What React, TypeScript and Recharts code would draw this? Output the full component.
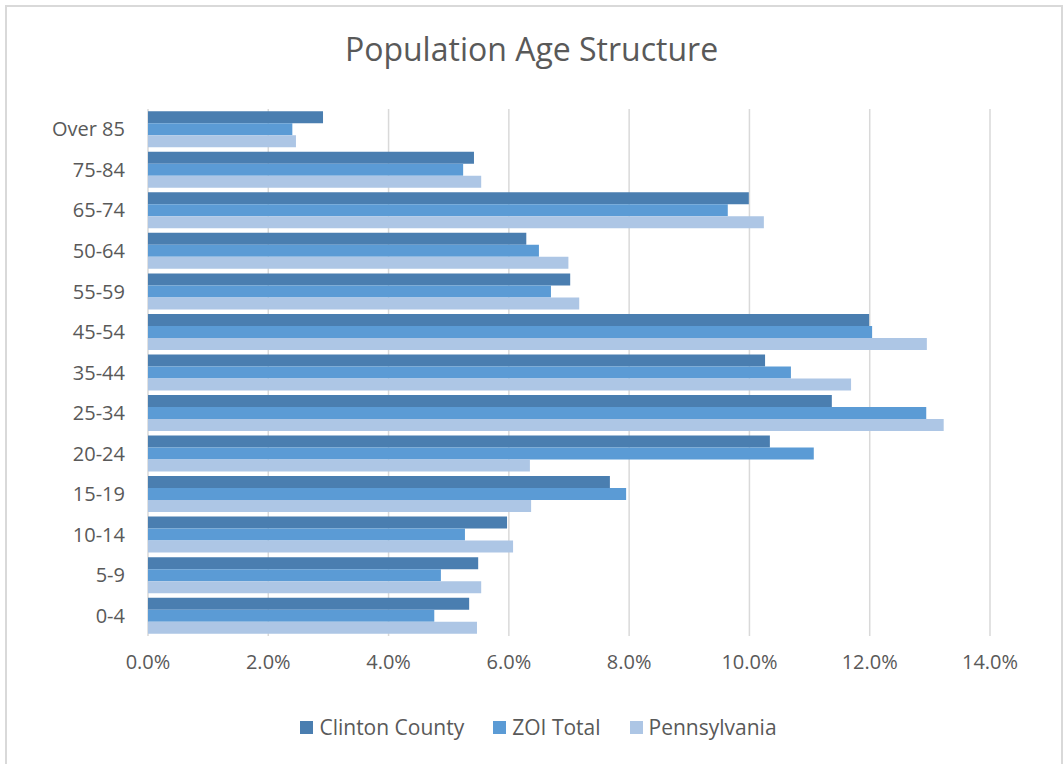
import React from 'react';
import { BarChart, Bar, XAxis, YAxis, CartesianGrid, Legend } from 'recharts';

const categories = ['Over 85', '75-84', '65-74', '50-64', '55-59', '45-54', '35-44', '25-34', '20-24', '15-19', '10-14', '5-9', '0-4'];
const clintonCounty = [2.91, 5.42, 9.99, 6.29, 7.02, 11.99, 10.26, 11.37, 10.34, 7.68, 5.97, 5.49, 5.34];
const zoiTotal = [2.40, 5.24, 9.64, 6.50, 6.70, 12.04, 10.69, 12.94, 11.07, 7.95, 5.27, 4.87, 4.76];
const pennsylvania = [2.46, 5.54, 10.24, 6.99, 7.17, 12.95, 11.69, 13.23, 6.35, 6.37, 6.07, 5.54, 5.47];
const xTicks = [0, 2, 4, 6, 8, 10, 12, 14];

const seriesNames = ['Clinton County', 'ZOI Total', 'Pennsylvania'];
const seriesColors = ['#4A7EB0', '#5B9BD5', '#ADC6E5'];

const data = categories.map((c, i) => ({
  category: c,
  clinton: clintonCounty[i],
  zoi: zoiTotal[i],
  pa: pennsylvania[i],
}));

const FONT = "'Open Sans', sans-serif";
const TEXT = '#595959';

const LegendContent = () => (
  <div style={{ height: 30, display: 'flex', justifyContent: 'center', alignItems: 'center', fontFamily: FONT, fontSize: 21, color: TEXT, paddingLeft: 79 }}>
    {seriesNames.map((n, i) => (
      <div key={n} style={{ display: 'flex', alignItems: 'center', marginRight: i < 2 ? 29 : 0 }}>
        <span style={{ width: 13, height: 13, background: seriesColors[i], display: 'inline-block', marginRight: 6 }} />
        <span>{n}</span>
      </div>
    ))}
  </div>
);

export default function App() {
  return (
    <div style={{ position: 'absolute', left: 0, top: 0, width: 1063, height: 764, background: '#fff', overflow: 'hidden' }}>
      <div style={{ position: 'absolute', left: 5, top: 5, width: 1058, height: 780, border: '2px solid #D9D9D9', boxSizing: 'border-box' }} />
      <div style={{ position: 'absolute', left: 0, top: 27, width: 1063, textAlign: 'center', fontFamily: FONT, fontSize: 32, color: TEXT, lineHeight: '44px' }}>
        Population Age Structure
      </div>
      <BarChart
        width={1063}
        height={764}
        data={data}
        layout="vertical"
        margin={{ top: 109, right: 73, bottom: 22, left: 8 }}
        barCategoryGap="5.5%"
        barGap={0}
      >
        <CartesianGrid horizontal={false} stroke="#D9D9D9" strokeWidth={1.5} />
        <XAxis
          type="number"
          domain={[0, 14]}
          ticks={xTicks}
          tickFormatter={(v: number) => v.toFixed(1) + '%'}
          axisLine={false}
          tickLine={false}
          tickSize={0}
          tickMargin={19}
          height={76}
          interval={0}
          tick={{ fill: TEXT, fontSize: 20, fontFamily: FONT }}
        />
        <YAxis
          type="category"
          dataKey="category"
          width={140}
          axisLine={false}
          tickLine={false}
          tickSize={0}
          tickMargin={23}
          interval={0}
          tick={{ fill: TEXT, fontSize: 20, fontFamily: FONT }}
        />
        <Legend verticalAlign="bottom" content={<LegendContent />} />
        <Bar dataKey="clinton" name={seriesNames[0]} fill={seriesColors[0]} isAnimationActive={false} />
        <Bar dataKey="zoi" name={seriesNames[1]} fill={seriesColors[1]} isAnimationActive={false} />
        <Bar dataKey="pa" name={seriesNames[2]} fill={seriesColors[2]} isAnimationActive={false} />
      </BarChart>
    </div>
  );
}
